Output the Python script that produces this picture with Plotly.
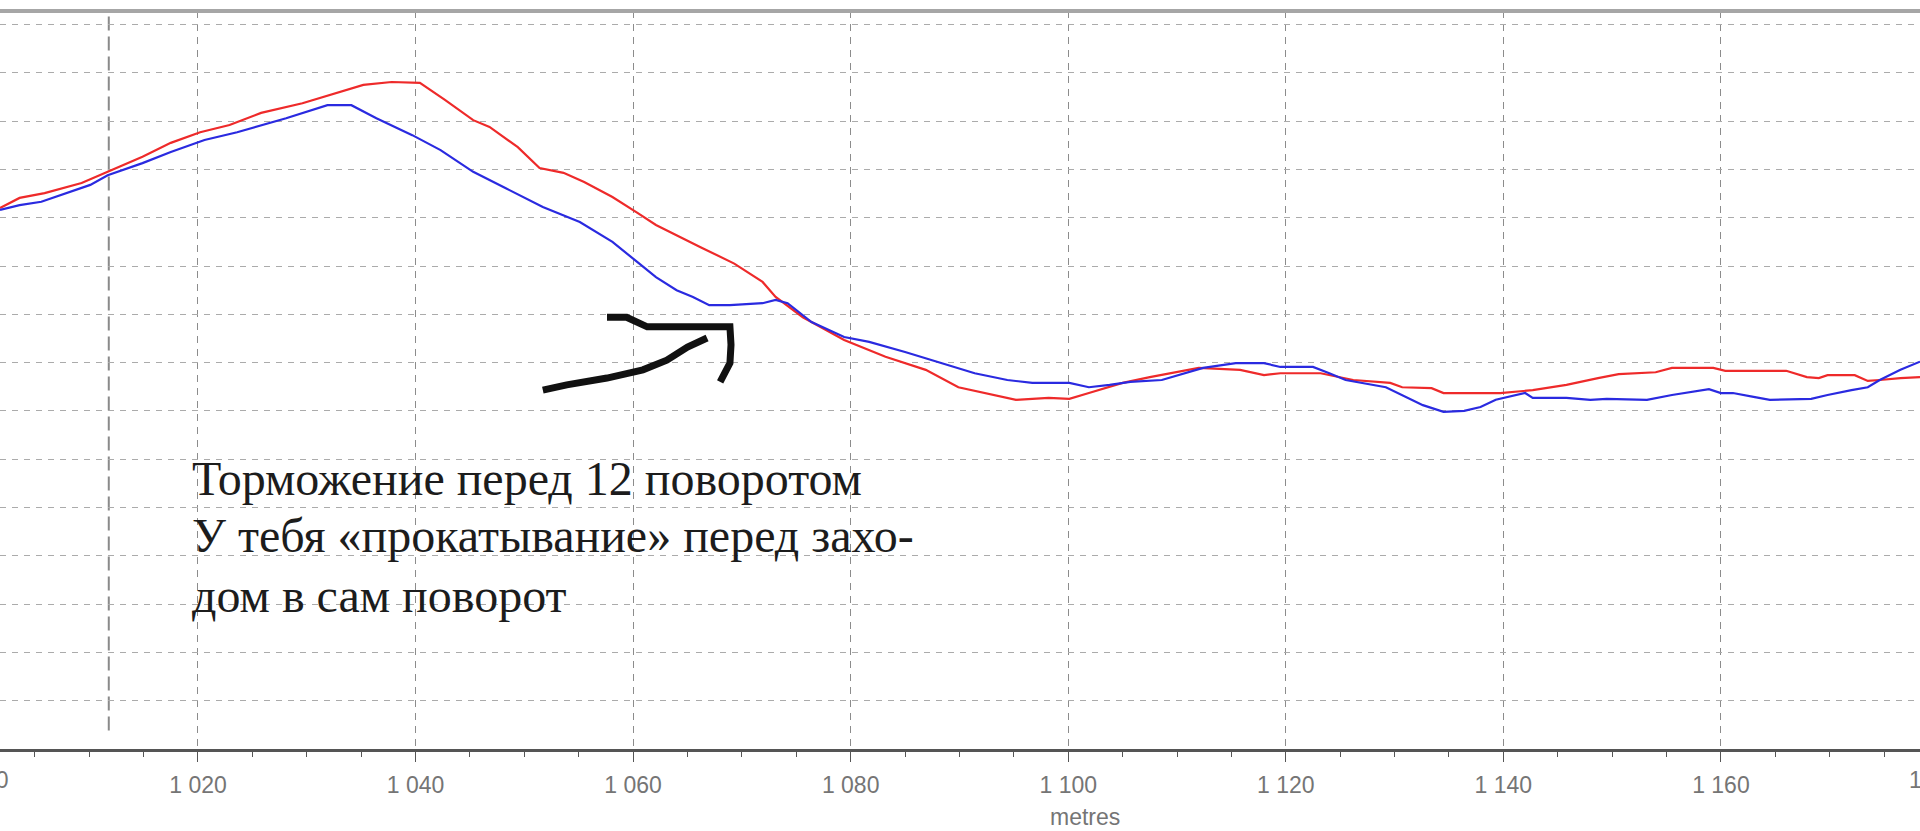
import plotly.graph_objects as go

# ---------------- data (distance in metres, speed trace values) ----------------
distance_red = [1001.8, 1003.6, 1005.9, 1009.3, 1011.7, 1014.9, 1017.5, 1020.2, 1022.9, 1025.8,
                1029.6, 1032.6, 1035.2, 1037.8, 1040.4, 1042.7, 1045.3, 1046.8, 1049.4, 1051.4,
                1053.6, 1055.5, 1058.1, 1060.4, 1062.1, 1066.2, 1069.3, 1071.9, 1073.1, 1075.6,
                1079.4, 1083.2, 1086.9, 1089.9, 1092.5, 1095.2, 1098.2, 1100.1, 1101.9, 1105.0,
                1107.5, 1109.5, 1112.0, 1115.8, 1118.0, 1119.5, 1123.2, 1126.2, 1129.6, 1130.7,
                1133.4, 1134.5, 1139.7, 1142.7, 1145.8, 1148.7, 1150.6, 1154.0, 1155.5, 1159.3,
                1160.4, 1166.0, 1167.9, 1169.0, 1169.8, 1172.3, 1173.5, 1174.6, 1176.5, 1178.3]
speed_red = [162.0, 164.1, 165.1, 167.2, 169.5, 172.6, 175.5, 177.7, 179.2, 181.7,
             183.7, 185.8, 187.5, 188.1, 187.9, 184.4, 180.2, 178.8, 174.6, 170.3,
             169.3, 167.4, 164.3, 161.0, 158.5, 153.9, 150.5, 146.7, 143.6, 139.4,
             134.7, 131.2, 128.5, 124.9, 123.7, 122.3, 122.7, 122.5, 123.7, 125.8,
             127.0, 127.8, 128.9, 128.5, 127.4, 127.8, 127.8, 126.4, 125.8, 124.9,
             124.7, 123.7, 123.7, 124.3, 125.4, 126.8, 127.6, 128.0, 128.9, 128.9,
             128.3, 128.3, 127.0, 126.8, 127.4, 127.4, 126.2, 126.4, 126.8, 127.0]

distance_blue = [1001.8, 1003.6, 1005.6, 1007.4, 1010.1, 1011.7, 1014.9, 1017.5, 1020.6, 1023.6,
                 1028.1, 1031.9, 1034.1, 1036.4, 1039.7, 1042.3, 1045.3, 1048.3, 1051.7, 1055.1,
                 1058.1, 1060.4, 1062.1, 1064.0, 1065.5, 1067.0, 1068.9, 1071.9, 1073.1, 1074.2,
                 1076.4, 1079.4, 1081.7, 1085.0, 1088.8, 1091.4, 1094.4, 1096.7, 1100.1, 1101.9,
                 1103.8, 1105.7, 1108.6, 1110.2, 1112.4, 1115.4, 1118.0, 1119.5, 1122.5, 1124.0,
                 1125.5, 1129.2, 1130.7, 1132.6, 1134.5, 1136.4, 1137.9, 1139.3, 1142.0, 1142.7,
                 1145.8, 1148.0, 1149.5, 1153.2, 1155.5, 1158.1, 1158.9, 1160.0, 1161.1, 1163.0,
                 1164.5, 1168.3, 1169.8, 1172.0, 1173.5, 1174.6, 1176.5, 1178.3]
speed_blue = [161.6, 162.6, 163.3, 164.7, 166.8, 168.8, 171.3, 173.6, 176.1, 177.7,
              180.6, 183.3, 183.3, 180.6, 177.1, 174.0, 169.5, 166.1, 162.2, 159.1,
              155.0, 150.8, 147.7, 145.0, 143.6, 141.9, 141.9, 142.3, 143.0, 142.3,
              138.4, 135.3, 134.3, 132.2, 129.5, 127.8, 126.4, 125.8, 125.8, 124.9,
              125.4, 126.0, 126.4, 127.4, 128.9, 129.9, 129.9, 129.1, 129.1, 127.8,
              126.4, 124.9, 123.3, 121.2, 119.8, 120.0, 120.8, 122.3, 123.7, 122.7,
              122.7, 122.3, 122.5, 122.3, 123.3, 124.1, 124.5, 123.7, 123.7, 122.9,
              122.3, 122.5, 123.3, 124.3, 124.9, 126.4, 128.5, 130.2]

tick_values = [1000, 1020, 1040, 1060, 1080, 1100, 1120, 1140, 1160, 1180]
tick_labels = ["1 000", "1 020", "1 040", "1 060", "1 080", "1 100", "1 120", "1 140", "1 160", "1 180"]
x_axis_title = "metres"
x_range = [1001.8, 1178.3]
y_range = [50.0, 202.8]
marker_distance = 1011.8

note_lines = ["Торможение перед 12 поворотом",
              "У тебя «прокатывание» перед захо-",
              "дом в сам поворот"]
note_x = 1019.3
note_y = [106.1, 94.3, 81.7]

# hand-drawn arrow strokes (in data coordinates)
arrow_top_x = [1057.6, 1059.4, 1061.3, 1068.9, 1069.0, 1068.9, 1068.0]
arrow_top_y = [139.4, 139.4, 137.4, 137.4, 133.7, 129.9, 126.0]
arrow_low_x = [1051.7, 1053.9, 1057.6, 1060.9, 1063.1, 1065.0, 1066.8]
arrow_low_y = [124.3, 125.4, 126.8, 128.5, 130.5, 133.2, 135.1]

TICK_FONT = dict(family="Liberation Sans, Arial, sans-serif", size=23, color="#757575")

# ---------------- figure ----------------
fig = go.Figure()

fig.add_trace(go.Scatter(x=distance_red, y=speed_red, mode="lines",
                         line=dict(color="#ee2a2a", width=2.2), hoverinfo="skip", showlegend=False))
fig.add_trace(go.Scatter(x=distance_blue, y=speed_blue, mode="lines",
                         line=dict(color="#2a2ae0", width=2.2), hoverinfo="skip", showlegend=False))

for ax_x, ax_y in [(arrow_top_x, arrow_top_y), (arrow_low_x, arrow_low_y)]:
    fig.add_trace(go.Scatter(x=ax_x, y=ax_y, mode="lines", line=dict(color="#111111", width=7),
                             hoverinfo="skip", showlegend=False))

# cursor / marker line
fig.add_shape(type="line", xref="x", yref="paper", x0=marker_distance, x1=marker_distance,
              y0=0.025, y1=1, line=dict(color="#8a8a8a", width=2, dash="14px,6px"), layer="below")
# top border
fig.add_shape(type="line", xref="paper", yref="paper", x0=0, x1=1, y0=1.0, y1=1.0,
              line=dict(color="#a6a6a6", width=4))

annotations = []
for txt, yy in zip(note_lines, note_y):
    annotations.append(dict(x=note_x, y=yy, xref="x", yref="y", text=txt, showarrow=False,
                            xanchor="left", yanchor="middle",
                            font=dict(family="Liberation Serif, Times New Roman, serif", size=48,
                                      color="#1c1c1c")))

span = x_range[1] - x_range[0]
for v, lab in zip(tick_values, tick_labels):
    if v < x_range[0] or v > x_range[1]:
        annotations.append(dict(x=(v - x_range[0]) / span, y=0, xref="paper", yref="paper",
                                text=lab, showarrow=False, xanchor="center", yanchor="top",
                                yshift=-16, font=TICK_FONT))

annotations.append(dict(x=(1100.0 + 1.5 - x_range[0]) / span, y=0, xref="paper", yref="paper",
                        text=x_axis_title, showarrow=False, xanchor="center", yanchor="top",
                        yshift=-53, font=TICK_FONT))

fig.update_layout(
    width=1920, height=831,
    margin=dict(l=0, r=0, t=11, b=82),
    paper_bgcolor="white", plot_bgcolor="white",
    annotations=annotations,
    xaxis=dict(range=x_range, tickvals=tick_values, ticktext=tick_labels,
               showgrid=True, gridcolor="#8c8c8c", gridwidth=1, griddash="7px,6px",
               showline=True, linecolor="#555555", linewidth=3,
               ticks="outside", ticklen=10, tickwidth=1, tickcolor="#555555",
               ticklabelstandoff=3,
               tickfont=TICK_FONT,
               minor=dict(ticks="outside", ticklen=5, dtick=5, tick0=1000, tickcolor="#555555",
                          showgrid=False),
               zeroline=False, fixedrange=True),
    yaxis=dict(range=y_range, tick0=0, dtick=10, showgrid=True, gridcolor="#ababab", gridwidth=1,
               griddash="6px,6px", showticklabels=False, ticks="", showline=False,
               zeroline=False, fixedrange=True),
)

fig.write_html("out.html", config={"displayModeBar": False},
               post_script="document.body.style.margin='0';document.body.style.overflow='hidden';")
